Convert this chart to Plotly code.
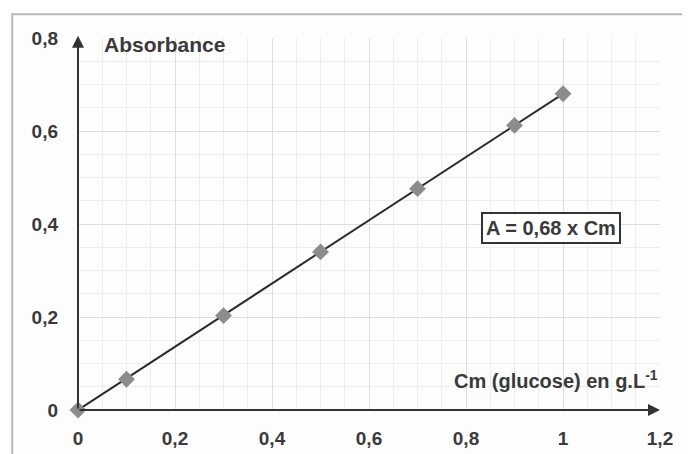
import plotly.graph_objects as go

# Data
conc = [0, 0.1, 0.3, 0.5, 0.7, 0.9, 1.0]
absorb = [0, 0.066, 0.203, 0.340, 0.476, 0.612, 0.680]
slope = 0.68
fit_x = [0, 1.0]
fit_y = [slope * v for v in fit_x]

x_range = [0, 1.2]
y_range = [0, 0.8]
x_ticks = [0, 0.2, 0.4, 0.6, 0.8, 1.0, 1.2]
x_ticklabels = ["0", "0,2", "0,4", "0,6", "0,8", "1", "1,2"]
y_ticks = [0, 0.2, 0.4, 0.6, 0.8]
y_ticklabels = ["0", "0,2", "0,4", "0,6", "0,8"]

FONT = "Liberation Sans, Arial, sans-serif"
DARK = "#333333"
TXT = "#3a3a3a"

fig = go.Figure()
fig.add_trace(go.Scatter(x=fit_x, y=fit_y, mode="lines",
                         line=dict(color="#2b2b2b", width=2), showlegend=False,
                         cliponaxis=False))
fig.add_trace(go.Scatter(x=conc, y=absorb, mode="markers",
                         marker=dict(symbol="diamond", size=13, color="#8c8c8c",
                                     line=dict(width=0)),
                         showlegend=False, cliponaxis=False))

# axes arrows
fig.add_annotation(x=x_range[1], y=0, ax=0, ay=0, xref="x", yref="y", axref="x", ayref="y",
                   showarrow=True, arrowhead=2, arrowsize=1.2, arrowwidth=2,
                   arrowcolor=DARK, text="")
fig.add_annotation(x=0, y=y_range[1] + 0.005, ax=0, ay=0, xref="x", yref="y", axref="x", ayref="y",
                   showarrow=True, arrowhead=2, arrowsize=1.2, arrowwidth=2,
                   arrowcolor=DARK, text="")

fig.add_annotation(x=0.05, y=0.785, xref="x", yref="y", text="<b>Absorbance</b>",
                   showarrow=False, xanchor="left", yanchor="middle",
                   font=dict(family=FONT, size=21, color=TXT))
fig.add_annotation(x=1.2, y=0.065, xref="x", yref="y",
                   text="<b>Cm (glucose) en g.L<sup>-1</sup></b>",
                   showarrow=False, xanchor="right", yanchor="middle",
                   font=dict(family=FONT, size=20, color=TXT))
fig.add_annotation(x=0.975, y=0.391, xref="x", yref="y", text="<b>A = 0,68 x Cm</b>",
                   showarrow=False, xanchor="center", yanchor="middle",
                   bordercolor=DARK, borderwidth=2, borderpad=3, bgcolor="white",
                   font=dict(family=FONT, size=20, color=TXT))

# outer frame
fig.add_shape(type="rect", xref="paper", yref="paper",
              x0=-0.113, x1=1.049, y0=-0.3, y1=1.064,
              line=dict(color="#b8b8b8", width=2), fillcolor="rgba(0,0,0,0)", layer="below")

axis_common = dict(showline=False, zeroline=False, ticks="",
                   gridcolor="#dedede", gridwidth=1,
                   tickfont=dict(family=FONT, size=19, color=TXT, weight="bold"),
                   fixedrange=True)

fig.update_xaxes(range=x_range, tickvals=x_ticks, ticktext=x_ticklabels,
                 minor=dict(dtick=0.05, tick0=0, showgrid=True, gridcolor="#ececec", gridwidth=1),
                 ticklabelstandoff=15, **axis_common)
fig.update_yaxes(range=y_range, tickvals=y_ticks, ticktext=y_ticklabels,
                 minor=dict(dtick=0.05, tick0=0, showgrid=True, gridcolor="#ececec", gridwidth=1),
                 ticklabelstandoff=19, **axis_common)

fig.update_layout(width=690, height=454,
                  margin=dict(l=70, r=38, t=30, b=52),
                  paper_bgcolor="#fdfdfd", plot_bgcolor="#fdfdfd",
                  font=dict(family=FONT, color=DARK))

fig.write_html("out.html")
